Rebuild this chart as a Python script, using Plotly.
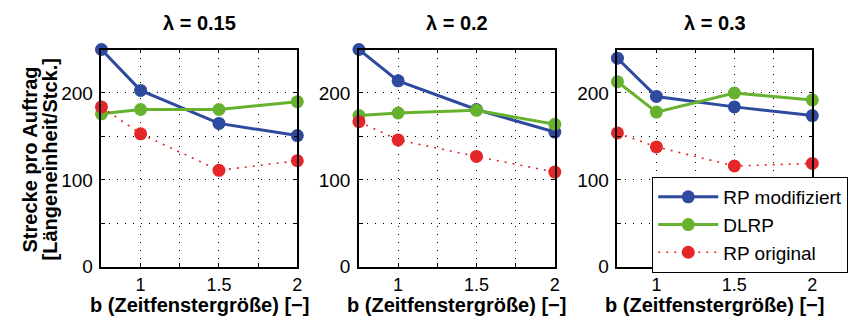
import plotly.graph_objects as go

b_vals = [0.75, 1, 1.5, 2]
panel_titles = ["λ = 0.15", "λ = 0.2", "λ = 0.3"]

rp_mod = [
    [250, 203, 165, 151],
    [250, 214, 181, 155],
    [240, 196, 184, 174],
]
dlrp = [
    [176, 181, 181, 190],
    [174, 177, 180, 164],
    [213, 178, 200, 192],
]
rp_orig = [
    [184, 153, 111, 122],
    [167, 146, 127, 109],
    [154, 138, 116, 119],
]

series_names = ["RP modifiziert", "DLRP", "RP original"]
colors = ["#2e4a9e", "#66b22e", "#e52629"]

x_tickvals = [0.75, 1, 1.25, 1.5, 1.75, 2]
x_ticktext = ["", "1", "", "1.5", "", "2"]
y_tickvals = [0, 50, 100, 150, 200, 250]
y_ticktext = ["0", "", "100", "", "200", ""]

W, H = 862, 321
panels_px = [(94, 291), (353, 550), (613, 809)]
top_px, bot_px = 43, 268

FONT = "Liberation Sans, Arial, sans-serif"

fig = go.Figure()
for i in range(3):
    xa = "x" if i == 0 else f"x{i+1}"
    ya = "y" if i == 0 else f"y{i+1}"
    data = [rp_mod[i], dlrp[i], rp_orig[i]]
    for j in range(3):
        dash = "solid" if j < 2 else "2px,6px"
        width = 3 if j < 2 else 1.6
        fig.add_trace(go.Scatter(
            x=b_vals, y=data[j], mode="lines+markers",
            name=series_names[j], legendgroup=series_names[j],
            showlegend=(i == 2),
            line=dict(color=colors[j], width=width, dash=dash),
            marker=dict(color=colors[j], size=13, line=dict(width=0)),
            xaxis=xa, yaxis=ya, cliponaxis=False,
        ))

layout = dict(
    width=W, height=H,
    margin=dict(l=0, r=0, t=0, b=0),
    paper_bgcolor="white", plot_bgcolor="white",
    font=dict(family=FONT, size=18, color="black"),
    legend=dict(
        x=648 / W, y=1 - 175 / H, xanchor="left", yanchor="top",
        bordercolor="black", borderwidth=1, bgcolor="white",
        font=dict(family=FONT, size=19, color="black"),
        itemwidth=60, tracegroupgap=0,
    ),
    annotations=[],
)

for i, (l, r) in enumerate(panels_px):
    xk = "xaxis" if i == 0 else f"xaxis{i+1}"
    yk = "yaxis" if i == 0 else f"yaxis{i+1}"
    ya_ref = "y" if i == 0 else f"y{i+1}"
    xa_ref = "x" if i == 0 else f"x{i+1}"
    layout[xk] = dict(
        domain=[l / W, r / W], anchor=ya_ref, range=[0.75, 2],
        tickvals=x_tickvals, ticktext=x_ticktext,
        ticks="inside", ticklen=4, tickcolor="black", tickwidth=1,
        showline=True, linecolor="black", linewidth=1.5, mirror="allticks",
        showgrid=True, gridcolor="black", gridwidth=1, griddash="1px,7px",
        zeroline=False, ticklabelstandoff=1,
        tickfont=dict(size=18),
    )
    layout[yk] = dict(
        domain=[1 - bot_px / H, 1 - top_px / H], anchor=xa_ref, range=[0, 250],
        tickvals=y_tickvals, ticktext=y_ticktext,
        ticks="inside", ticklen=4, tickcolor="black", tickwidth=1,
        showline=True, linecolor="black", linewidth=1.5, mirror="allticks",
        showgrid=True, gridcolor="black", gridwidth=1, griddash="1px,7px",
        zeroline=False, ticklabelstandoff=3,
        tickfont=dict(size=19),
    )
    cx = (l + r) / 2 / W
    layout["annotations"].append(dict(
        text=f"<b>{panel_titles[i]}</b>", x=cx, y=1 - 16 / H,
        xref="paper", yref="paper", xanchor="center", yanchor="middle",
        showarrow=False, font=dict(size=20, family=FONT),
    ))
    layout["annotations"].append(dict(
        text="<b>b (Zeitfenstergröße) [−]</b>", x=cx, y=0,
        xref="paper", yref="paper", xanchor="center", yanchor="bottom",
        showarrow=False, font=dict(size=20, family=FONT),
    ))

layout["annotations"].append(dict(
    text="<b>Strecke pro Auftrag</b>", x=22 / W, y=1 - 157 / H,
    xref="paper", yref="paper", xanchor="center", yanchor="middle",
    textangle=-90, showarrow=False, font=dict(size=20, family=FONT),
))
layout["annotations"].append(dict(
    text="<b>[Längeneinheit/Stck.]</b>", x=42 / W, y=1 - 157 / H,
    xref="paper", yref="paper", xanchor="center", yanchor="middle",
    textangle=-90, showarrow=False, font=dict(size=20, family=FONT),
))

fig.update_layout(**layout)
fig.write_html("out.html")
